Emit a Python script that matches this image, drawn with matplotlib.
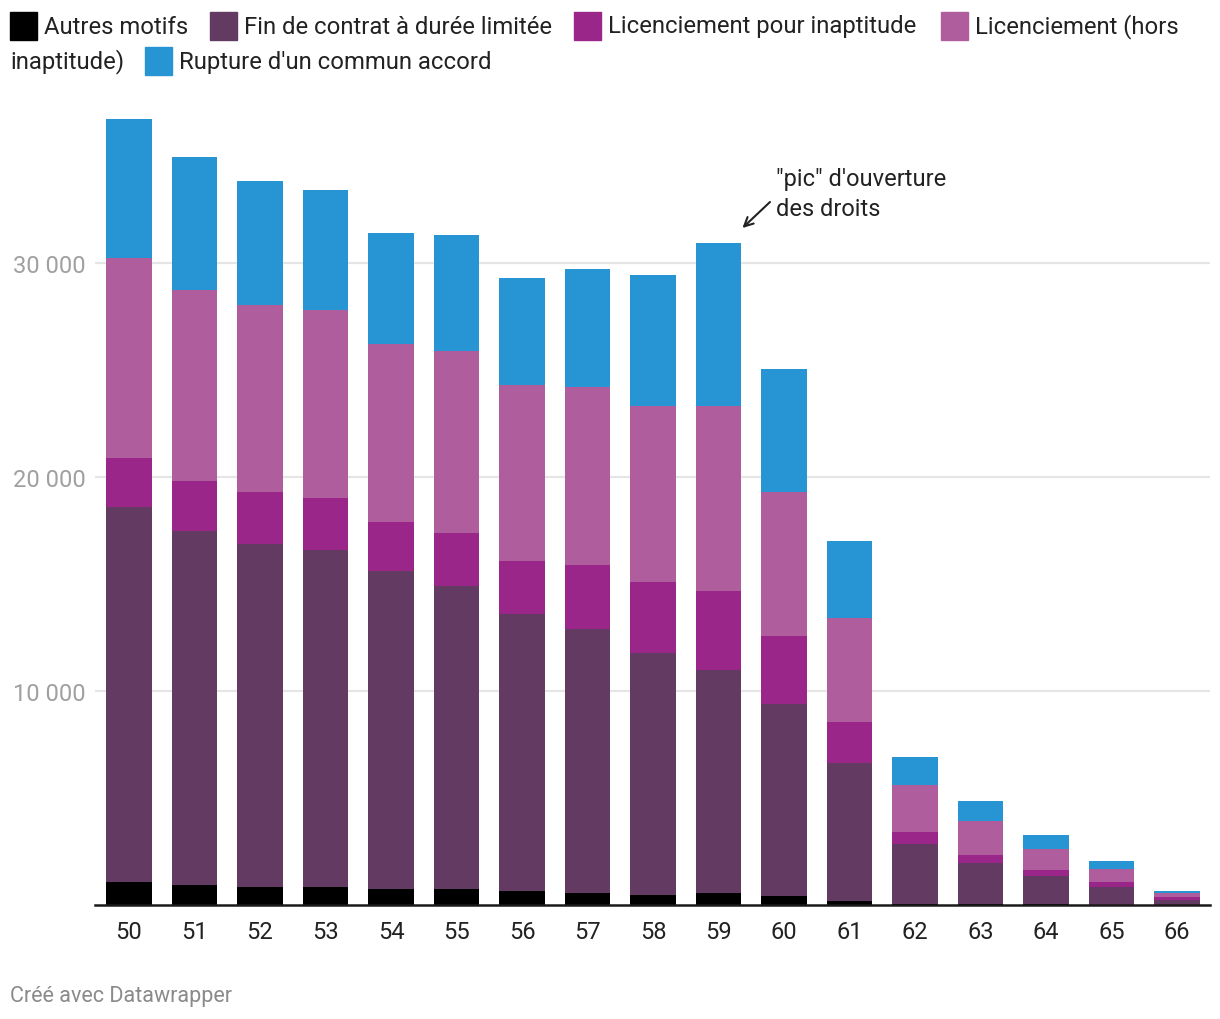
import matplotlib
matplotlib.use("Agg")
import matplotlib.pyplot as plt
from matplotlib.patches import Rectangle
import numpy as np

plt.rcParams['font.family'] = ['Roboto', 'DejaVu Sans']

# ages
ages = [50, 51, 52, 53, 54, 55, 56, 57, 58, 59, 60, 61, 62, 63, 64, 65, 66]

# motifs de fin de contrat (effectifs)
autres = [1070, 925, 830, 830, 735, 735, 640, 545, 455, 545, 400, 210, 60, 60, 25, 15, 10]
fin_cdd = [17514, 16538, 16025, 15745, 14860, 14158, 12944, 12338, 11307, 10422,
           9000, 6410, 2810, 1918, 1346, 842, 239]
inaptitude = [2290, 2336, 2430, 2430, 2288, 2478, 2477, 2991, 3317, 3692,
              3170, 1950, 530, 374, 280, 233, 140]
licenciement = [9360, 8939, 8738, 8799, 8325, 8503, 8224, 8318, 8239, 8659,
                6730, 4819, 2200, 1558, 950, 577, 172]
rupture = [6481, 6201, 5795, 5593, 5180, 5420, 5000, 5514, 6107, 7603,
           5770, 3621, 1300, 965, 686, 405, 109]

series = [
    ("Autres motifs", autres, "#000000"),
    ("Fin de contrat à durée limitée", fin_cdd, "#633a62"),
    ("Licenciement pour inaptitude", inaptitude, "#9b2689"),
    ("Licenciement (hors\ninaptitude)", licenciement, "#b05d9e"),
    ("Rupture d'un commun accord", rupture, "#2794d3"),
]

W, H = 1220, 1020
fig = plt.figure(figsize=(W / 100, H / 100), dpi=100)
ax = fig.add_axes([95 / W, 1 - 906 / H, (1210 - 95) / W, (906 - 111) / H])

bottom = np.zeros(len(ages))
for name, vals, col in series:
    ax.bar(ages, vals, width=0.7, bottom=bottom, color=col, zorder=2)
    bottom += np.array(vals)

ax.set_xlim(49.481, 66.503)
ax.set_ylim(0, 37150)
ax.set_yticks([10000, 20000, 30000])
ax.set_yticklabels(["10 000", "20 000", "30 000"])
ax.set_xticks(ages)
ax.set_xticklabels([str(a) for a in ages])
ax.grid(axis='y', color='#e5e5e5', linewidth=1.6, zorder=0)
ax.tick_params(axis='y', length=0, pad=7, labelsize=17, labelcolor='#a0a0a0')
ax.tick_params(axis='x', length=0, pad=11, labelsize=17, labelcolor='#222222')
for s in ['top', 'right', 'left']:
    ax.spines[s].set_visible(False)
ax.spines['bottom'].set_color('#1a1a1a')
ax.spines['bottom'].set_linewidth(1.8)
ax.spines['bottom'].set_zorder(3)

# annotation
ax.text(776, 1020 - 180, '"pic" d\'ouverture', transform=None, fontsize=17,
        color='#222222', va='center', ha='left')
ax.text(776, 1020 - 210, 'des droits', transform=None, fontsize=17,
        color='#222222', va='center', ha='left')
ax.annotate('', xy=(59.365, 31636), xytext=(770, 1020 - 203), textcoords='figure pixels',
            arrowprops=dict(arrowstyle='->', color='#222222', lw=1.5,
                            shrinkA=0, shrinkB=0, mutation_scale=16),
            annotation_clip=False)

# legend, drawn by hand to wrap like the original
leg_items = [
    (10, 27, "Autres motifs", "#000000"),
    (210, 27, "Fin de contrat à durée limitée", "#633a62"),
    (574, 27, "Licenciement pour inaptitude", "#9b2689"),
    (941, 27, "Licenciement (hors", "#b05d9e"),
    (145, 62, "Rupture d'un commun accord", "#2794d3"),
]
for x, y, label, col in leg_items:
    fig.patches.append(Rectangle((x / W, 1 - (y + 14) / H), 27 / W, 28 / H,
                                 transform=fig.transFigure, color=col))
    fig.text((x + 34) / W, 1 - y / H, label, fontsize=17.2, color='#222222',
             va='center', ha='left')
fig.text(10 / W, 1 - 62 / H, "inaptitude)", fontsize=17.2, color='#222222',
         va='center', ha='left')

fig.text(10 / W, 1 - 997 / H, "Créé avec Datawrapper", fontsize=15.5, color='#8a8a8a',
         va='center', ha='left')

fig.savefig("out.png", dpi=100)
